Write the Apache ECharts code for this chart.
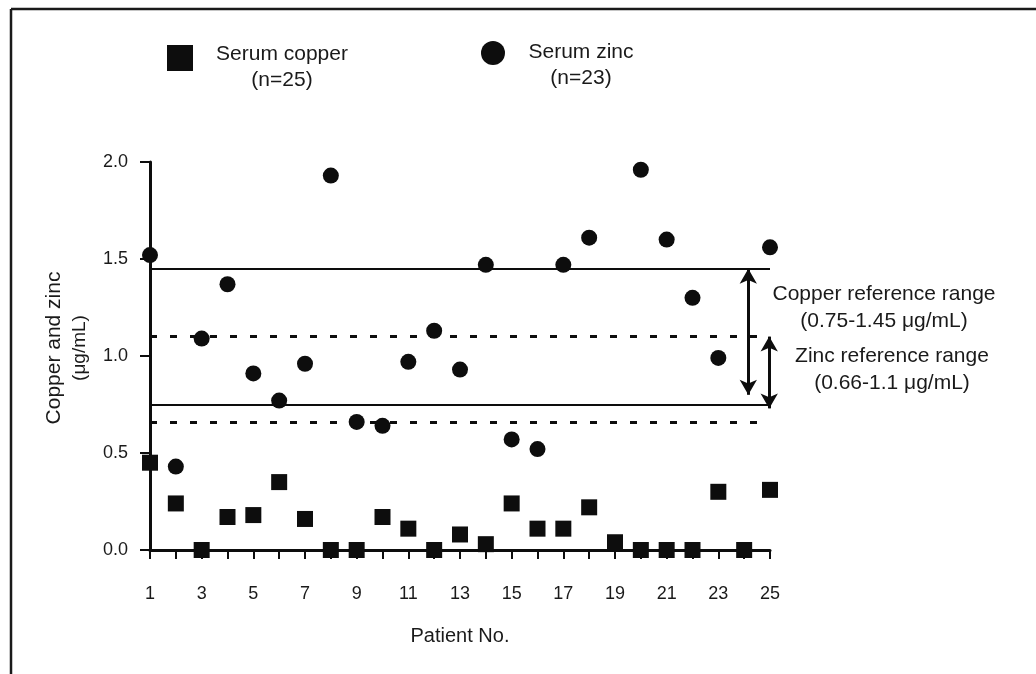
<!DOCTYPE html>
<html>
<head>
<meta charset="utf-8">
<script src="https://cdn.jsdelivr.net/npm/echarts@6/dist/echarts.min.js"></script>
<style>
  html, body { margin: 0; padding: 0; background: #fff; }
  #chart { width: 1036px; height: 674px; }
</style>
</head>
<body>
<div id="chart"></div>
<script>
var patients = [1, 2, 3, 4, 5, 6, 7, 8, 9, 10, 11, 12, 13, 14, 15, 16, 17, 18, 19, 20, 21, 22, 23, 24, 25];
var copper = [0.45, 0.24, 0, 0.17, 0.18, 0.35, 0.16, 0, 0, 0.17, 0.11, 0, 0.08, 0.03, 0.24, 0.11, 0.11, 0.22, 0.04, 0, 0, 0, 0.30, 0, 0.31];
// zinc missing for patients 19 and 24 (n=23)
var zinc = [1.52, 0.43, 1.09, 1.37, 0.91, 0.77, 0.96, 1.93, 0.66, 0.64, 0.97, 1.13, 0.93, 1.47, 0.57, 0.52, 1.47, 1.61, null, 1.96, 1.60, 1.30, 0.99, null, 1.56];
var yTicks = [0, 0.5, 1.0, 1.5, 2.0];
var copperRange = [0.75, 1.45];
var zincRange = [0.66, 1.1];
// arrows as drawn in the figure (they do not hit the lines exactly)
var copperArrow = [1.45, 0.80];
var zincArrow = [1.10, 0.73];

var FONT = "Liberation Sans";
var INK = "#0d0d0d";

var chart = echarts.init(document.getElementById("chart"));

var copperData = patients.map(function (p, i) { return [p, copper[i]]; });
var zincData = [];
patients.forEach(function (p, i) {
  if (zinc[i] !== null) zincData.push([p, zinc[i]]);
});

var option = {
  animation: false,
  backgroundColor: "#fff",
  textStyle: { fontFamily: FONT, color: INK },
  grid: { left: 150, right: 266, top: 162, bottom: 124 },
  legend: [
    {
      data: ["Serum copper"],
      left: 167, top: 44, padding: 0,
      itemWidth: 26, itemHeight: 26,
      selectedMode: false,
      formatter: function () { return "{a|Serum copper}\n{a|(n=25)}"; },
      textStyle: {
        padding: [19, 0, 0, 18],
        rich: { a: { fontFamily: FONT, fontSize: 21, color: "#1a1a1a", width: 132, align: "center", lineHeight: 26 } }
      }
    },
    {
      data: ["Serum zinc"],
      left: 481, top: 41, padding: 0,
      itemWidth: 24, itemHeight: 24,
      selectedMode: false,
      formatter: function () { return "{a|Serum zinc}\n{a|(n=23)}"; },
      textStyle: {
        padding: [24, 0, 0, 18],
        rich: { a: { fontFamily: FONT, fontSize: 21, color: "#1a1a1a", width: 106, align: "center", lineHeight: 26 } }
      }
    }
  ],
  xAxis: {
    type: "value",
    min: 1, max: 25, interval: 1,
    name: "Patient No.",
    nameLocation: "middle",
    nameGap: 76,
    nameTextStyle: { fontFamily: FONT, fontSize: 20, color: "#1a1a1a" },
    axisLine: { show: true, onZero: false, lineStyle: { color: INK, width: 3 } },
    axisTick: { show: true, length: 9, lineStyle: { color: INK, width: 2 } },
    axisLabel: {
      margin: 35,
      fontFamily: FONT, fontSize: 18, color: "#1a1a1a",
      formatter: function (v) { return v % 2 === 1 ? String(v) : ""; }
    },
    splitLine: { show: false }
  },
  yAxis: {
    type: "value",
    min: yTicks[0], max: yTicks[yTicks.length - 1], interval: 0.5,
    name: "{a|Copper and zinc}\n{b|(μg/mL)}",
    nameLocation: "middle",
    nameRotate: 90,
    nameGap: 57,
    nameTextStyle: {
      padding: [0, 0, 0, 16],
      rich: {
        a: { fontFamily: FONT, fontSize: 21, color: "#1a1a1a", lineHeight: 26 },
        b: { fontFamily: FONT, fontSize: 19, color: "#1a1a1a", lineHeight: 26 }
      }
    },
    axisLine: { show: true, lineStyle: { color: INK, width: 3 } },
    axisTick: { show: true, length: 10, lineStyle: { color: INK, width: 2 } },
    axisLabel: {
      margin: 22,
      fontFamily: FONT, fontSize: 18, color: "#1a1a1a",
      formatter: function (v) { return v.toFixed(1); }
    },
    splitLine: { show: false }
  },
  series: [
    {
      name: "Serum copper",
      type: "scatter",
      symbol: "rect",
      symbolSize: 16,
      itemStyle: { color: INK, opacity: 1 },
      data: copperData,
      clip: false,
      markLine: {
        silent: true,
        symbol: "none",
        label: { show: false },
        lineStyle: { color: INK, width: 2, type: "solid" },
        data: [{ yAxis: copperRange[0] }, { yAxis: copperRange[1] }]
      },
      z: 3
    },
    {
      name: "Serum zinc",
      type: "scatter",
      symbol: "circle",
      symbolSize: 16,
      itemStyle: { color: INK, opacity: 1 },
      data: zincData,
      clip: false,
      markLine: {
        silent: true,
        symbol: "none",
        label: { show: false },
        lineStyle: { color: INK, width: 3, type: [7, 13] },
        data: [{ yAxis: zincRange[0] }, { yAxis: zincRange[1] }]
      },
      z: 3
    },
    {
      name: "arrows",
      type: "line",
      data: [],
      markLine: {
        silent: true,
        symbol: ["arrow", "arrow"],
        symbolSize: [13, 15],
        label: { show: false },
        lineStyle: { color: INK, width: 3, type: "solid" },
        data: [
          [{ coord: [24.16, copperArrow[0]] }, { coord: [24.16, copperArrow[1]] }],
          [{ coord: [24.97, zincArrow[0]] }, { coord: [24.97, zincArrow[1]] }]
        ]
      }
    }
  ],
  graphic: [
    { type: "line", shape: { x1: 11, y1: 9, x2: 1036, y2: 9 }, style: { stroke: "#1a1a1a", lineWidth: 2.5 } },
    { type: "line", shape: { x1: 11, y1: 9, x2: 11, y2: 674 }, style: { stroke: "#1a1a1a", lineWidth: 2.5 } },
    {
      type: "text", x: 884, y: 281,
      style: {
        text: "Copper reference range\n(0.75-1.45 μg/mL)",
        fontFamily: FONT, fontSize: 21, fill: "#1a1a1a",
        align: "center", verticalAlign: "top", lineHeight: 27
      }
    },
    {
      type: "text", x: 892, y: 343,
      style: {
        text: "Zinc reference range\n(0.66-1.1 μg/mL)",
        fontFamily: FONT, fontSize: 21, fill: "#1a1a1a",
        align: "center", verticalAlign: "top", lineHeight: 27
      }
    }
  ]
};

chart.setOption(option);
</script>
</body>
</html>
